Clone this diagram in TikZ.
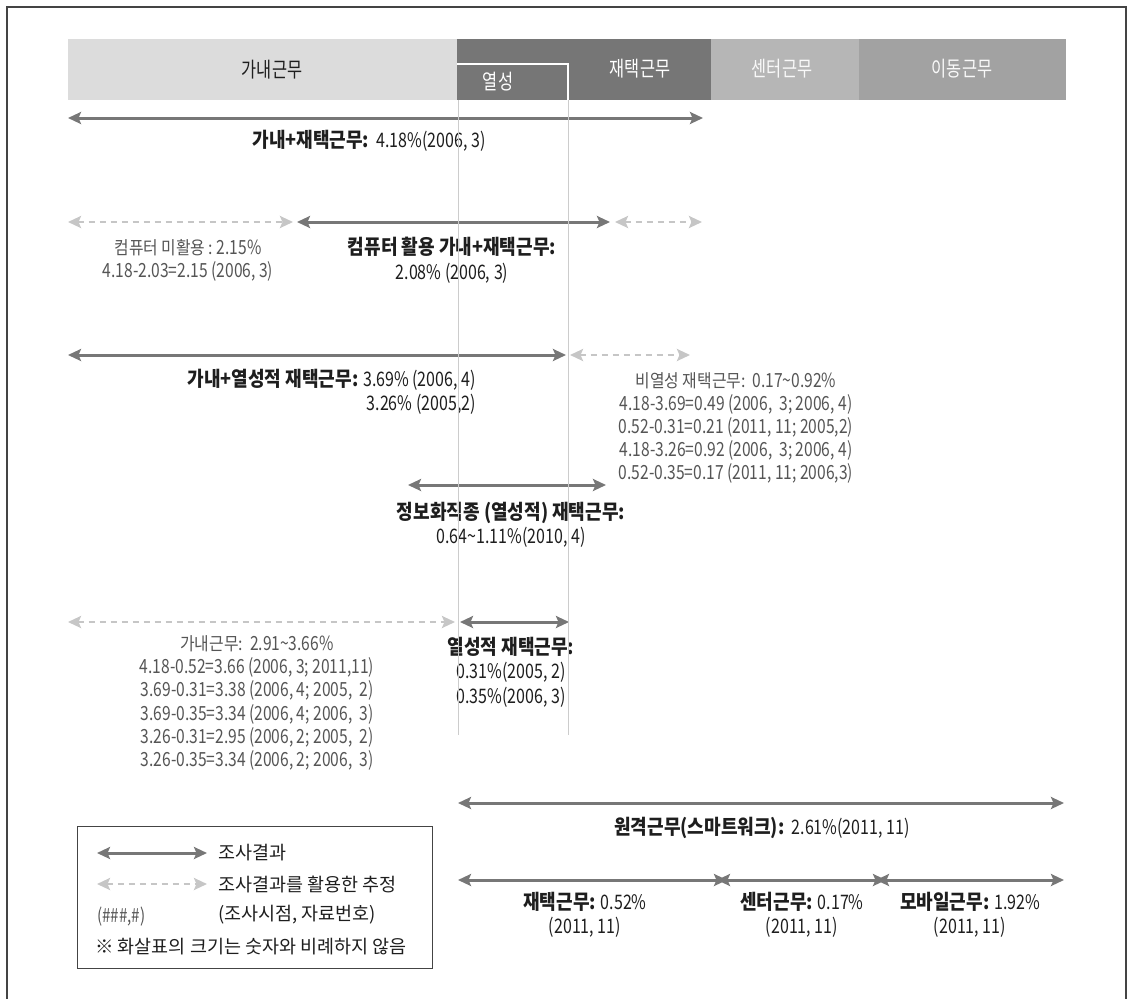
\documentclass[tikz,border=0pt]{standalone}
\usepackage{fontspec}
\setmainfont{Noto Sans CJK KR}
\newfontfamily\krf[FakeStretch=0.88]{Noto Sans CJK KR}
\newfontfamily\nmf[FakeStretch=0.8]{Noto Sans CJK KR}
\newfontfamily\hdf[FakeStretch=0.78]{Noto Sans CJK KR}
\newfontfamily\lgf{Noto Sans CJK KR}
\usetikzlibrary{arrows.meta}
\definecolor{arrc}{HTML}{777777}
\definecolor{estc}{HTML}{C6C6C6}
\definecolor{txtg}{HTML}{555555}
\definecolor{txtb}{HTML}{1E1E1E}
\definecolor{segA}{HTML}{DCDCDC}
\definecolor{segB}{HTML}{767676}
\definecolor{segC}{HTML}{B6B6B6}
\definecolor{segD}{HTML}{A2A2A2}
\definecolor{vlc}{HTML}{CCCCCC}
\definecolor{framec}{HTML}{444444}
\newcommand\KB[1]{{\krf\bfseries\fontsize{20.5}{24.5}\selectfont #1}}
\newcommand\KG[1]{{\krf\fontsize{18}{23.4}\selectfont #1}}
\newcommand\lblsz{\nmf\fontsize{20}{24.5}\selectfont}
\newcommand\estsz{\nmf\fontsize{19.5}{23.2}\selectfont}
\newcommand\hdsz{\hdf\fontsize{21}{24}\selectfont}
\newcommand\legsz{\lgf\fontsize{18.5}{21}\selectfont}
\tikzset{
  solidarr/.style={draw=arrc, line width=3pt, {Stealth[length=13pt,width=12pt,inset=2.5pt]}-{Stealth[length=13pt,width=12pt,inset=2.5pt]}},
  estarr/.style={draw=estc, line width=2.6pt, dash pattern=on 6pt off 5pt, {Stealth[length=13pt,width=12pt,inset=2.5pt]}-{Stealth[length=13pt,width=12pt,inset=2.5pt]}},
  lbl/.style={inner sep=0pt, font=\lblsz, text=txtb, align=center},
  est/.style={inner sep=0pt, font=\estsz, text=txtg, align=center},
  htxt/.style={inner sep=0pt, font=\hdsz},
  legt/.style={inner sep=0pt, anchor=west, font=\legsz, text=txtb},
  vline/.style={draw=vlc, line width=1pt},
}
\begin{document}
\begin{tikzpicture}[x=1pt,y=-1pt]
\useasboundingbox (0,0) rectangle (1128,999);
% frame
\draw[framec, line width=1.5pt] (7,999) -- (7,7) -- (1126,7) -- (1126,999);
% header bar
\fill[segA] (68,39) rectangle (457,100);
\fill[segB] (457,39) rectangle (711,100);
\fill[segC] (711,39) rectangle (859,100);
\fill[segD] (859,39) rectangle (1066,100);
\draw[white, line width=1.2pt] (457,64) -- (568,64) -- (568,100);
\node[htxt, text=txtb] (h1) at (272,70) {가내근무};
\node[htxt, text=white] (h2) at (640,69) {재택근무};
\node[htxt, text=white] (h2b) at (498,82) {열성};
\node[htxt, text=white!95!gray] (h3) at (782,69) {센터근무};
\node[htxt, text=white!95!gray] (h4) at (962,69) {이동근무};

% row 1
\coordinate (r1a) at (68,118); \coordinate (r1b) at (703,118);
\draw[solidarr] (r1a) -- (r1b);
\node[lbl] (t1) at (369,141) {\KB{가내+재택근무:}\ \ 4.18\%(2006, 3)};

% row 2
\coordinate (r2a) at (68,222); \coordinate (r2b) at (293,222);
\coordinate (r2c) at (297,222); \coordinate (r2d) at (610,222);
\coordinate (r2e) at (615,222); \coordinate (r2f) at (702,222);
\draw[estarr] (r2a) -- (r2b);
\draw[solidarr] (r2c) -- (r2d);
\draw[estarr] (r2e) -- (r2f);
\node[est] (t2a) at (188,260) {\KG{컴퓨터 미활용 :}\ 2.15\%\\4.18-2.03=2.15 (2006, 3)};
\node[lbl] (t2b) at (452,260) {\KB{컴퓨터 활용 가내+재택근무:}\\2.08\% (2006, 3)};

% row 3
\coordinate (r3a) at (68,355); \coordinate (r3b) at (566,355);
\coordinate (r3c) at (570,355); \coordinate (r3d) at (690,355);
\draw[solidarr] (r3a) -- (r3b);
\draw[estarr] (r3c) -- (r3d);
\node[lbl, align=right, anchor=east] (t3a) at (476,392) {\KB{가내+열성적 재택근무:} 3.69\% (2006, 4)\\3.26\% (2005,2)};
\node[est] (t3b) at (736,428) {\KG{비열성 재택근무:}\ \ 0.17\textasciitilde0.92\%\\4.18-3.69=0.49 (2006,\ \ 3; 2006, 4)\\0.52-0.31=0.21 (2011, 11; 2005,2)\\4.18-3.26=0.92 (2006,\ \ 3; 2006, 4)\\0.52-0.35=0.17 (2011, 11; 2006,3)};

% row 4
\coordinate (r4a) at (408,485); \coordinate (r4b) at (606,485);
\draw[solidarr] (r4a) -- (r4b);
\node[lbl] (t4) at (511,525) {\KB{정보화직종 (열성적) 재택근무:}\\0.64\textasciitilde1.11\%(2010, 4)};

% row 5
\coordinate (r5a) at (68,622); \coordinate (r5b) at (455,622);
\coordinate (r5c) at (460,622); \coordinate (r5d) at (569,622);
\draw[estarr] (r5a) -- (r5b);
\draw[solidarr] (r5c) -- (r5d);
\node[est] (t5a) at (257,703) {\KG{가내근무:}\ \ 2.91\textasciitilde3.66\%\\4.18-0.52=3.66 (2006, 3; 2011,11)\\3.69-0.31=3.38 (2006, 4; 2005,\ \ 2)\\3.69-0.35=3.34 (2006, 4; 2006,\ \ 3)\\3.26-0.31=2.95 (2006, 2; 2005,\ \ 2)\\3.26-0.35=3.34 (2006, 2; 2006,\ \ 3)};
\node[lbl] (t5b) at (511,672) {\KB{열성적 재택근무:}\\0.31\%(2005, 2)\\0.35\%(2006, 3)};

% vertical guide lines
\coordinate (v1a) at (458,100); \coordinate (v1b) at (458,735);
\coordinate (v2a) at (568,100); \coordinate (v2b) at (568,735);
\draw[vline] (v1a) -- (v1b);
\draw[vline] (v2a) -- (v2b);

% row 6
\coordinate (r6a) at (458,803); \coordinate (r6b) at (1064,803);
\draw[solidarr] (r6a) -- (r6b);
\node[lbl] (t6) at (762,828) {\KB{원격근무(스마트워크):}\ \ 2.61\%(2011, 11)};

% row 7
\coordinate (r7a) at (458,880); \coordinate (r7b) at (727,880);
\coordinate (r7c) at (717,880); \coordinate (r7d) at (886,880);
\coordinate (r7e) at (876,880); \coordinate (r7f) at (1064,880);
\draw[solidarr] (r7a) -- (r7b);
\draw[solidarr] (r7c) -- (r7d);
\draw[solidarr] (r7e) -- (r7f);
\node[lbl] (t7a) at (585,915) {\KB{재택근무:} 0.52\%\\(2011, 11)};
\node[lbl] (t7b) at (802,915) {\KB{센터근무:} 0.17\%\\(2011, 11)};
\node[lbl] (t7c) at (970,915) {\KB{모바일근무:} 1.92\%\\(2011, 11)};

% legend
\node[draw=framec, line width=1.2pt, minimum width=355pt, minimum height=142pt, anchor=north west, inner sep=0pt] (leg) at (77,826) {};
\coordinate (lg1a) at (97,853); \coordinate (lg1b) at (207,853);
\coordinate (lg2a) at (97,884); \coordinate (lg2b) at (207,884);
\draw[solidarr] (lg1a) -- (lg1b);
\draw[estarr] (lg2a) -- (lg2b);
\node[legt] (lt1) at (218,853) {조사결과};
\node[legt] (lt2) at (218,884) {조사결과를 활용한 추정};
\node[legt, font=\nmf\fontsize{19}{21}\selectfont, text=txtg] (lt3) at (97,917) {(\#\#\#,\#)};
\node[legt] (lt4) at (218,915) {(조사시점, 자료번호)};
\node[legt] (lt5) at (95,947) {※ 화살표의 크기는 숫자와 비례하지 않음};
\end{tikzpicture}
\end{document}
